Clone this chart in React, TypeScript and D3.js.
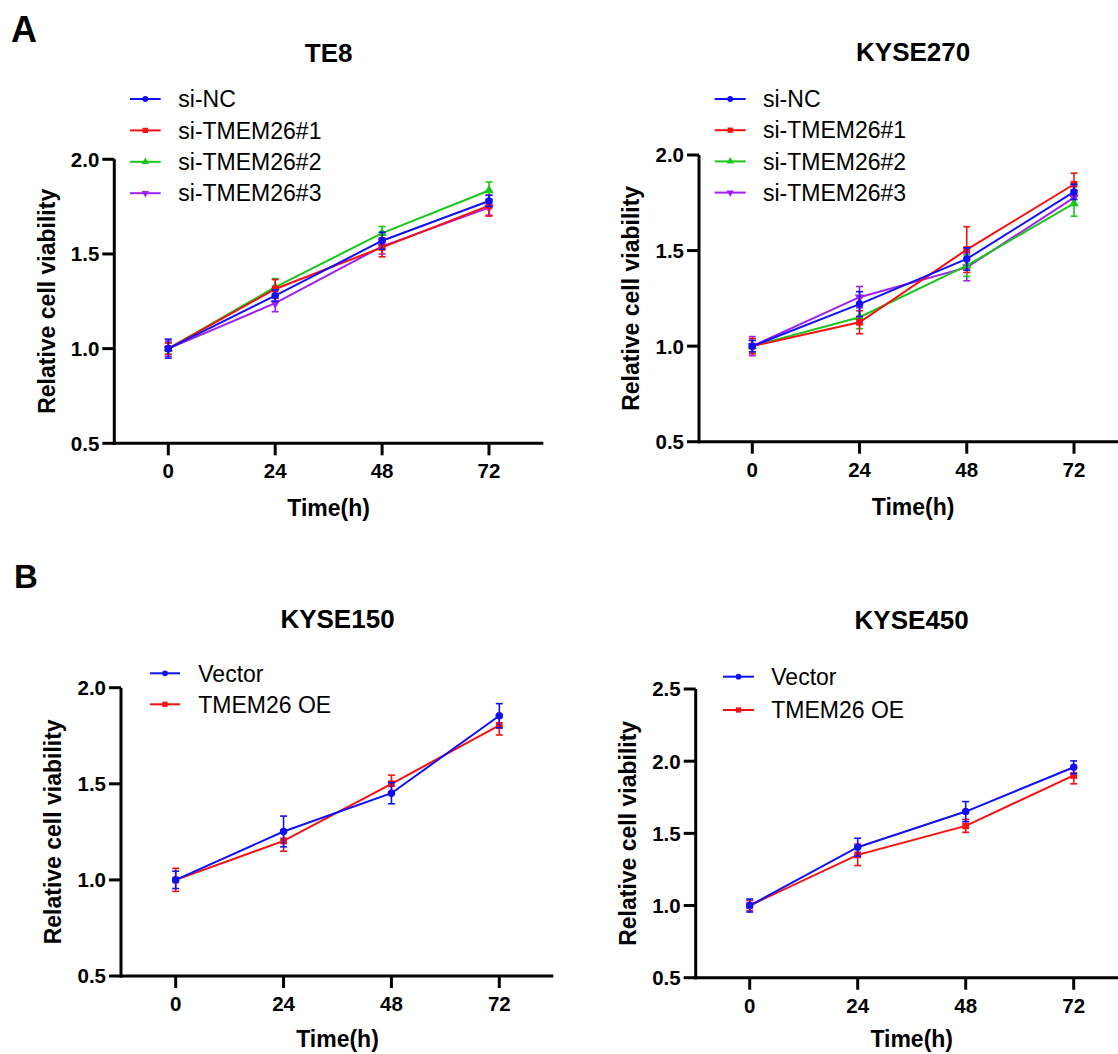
import React from "react";
import * as d3 from "d3";

// ---------- DATA ----------
const timePoints = [0, 24, 48, 72];
const xTickLabels = ["0", "24", "48", "72"];

const te8SiNC = [1.0, 1.28, 1.57, 1.78];
const te8SiNCErr = [0.05, 0.03, 0.045, 0.03];
const te8Si1 = [1.0, 1.315, 1.535, 1.755];
const te8Si1Err = [0.03, 0.05, 0.05, 0.055];
const te8Si2 = [1.0, 1.325, 1.61, 1.835];
const te8Si2Err = [0.03, 0.045, 0.035, 0.045];
const te8Si3 = [1.0, 1.24, 1.54, 1.745];
const te8Si3Err = [0.04, 0.045, 0.04, 0.04];

const k270SiNC = [1.0, 1.22, 1.456, 1.807];
const k270SiNCErr = [0.03, 0.065, 0.058, 0.04];
const k270Si1 = [1.0, 1.125, 1.505, 1.847];
const k270Si1Err = [0.04, 0.06, 0.12, 0.058];
const k270Si2 = [1.0, 1.151, 1.421, 1.747];
const k270Si2Err = [0.03, 0.06, 0.056, 0.067];
const k270Si3 = [1.0, 1.256, 1.412, 1.777];
const k270Si3Err = [0.05, 0.056, 0.07, 0.04];

const k150Vector = [1.0, 1.252, 1.451, 1.854];
const k150VectorErr = [0.045, 0.08, 0.055, 0.063];
const k150OE = [1.0, 1.203, 1.5, 1.804];
const k150OEErr = [0.06, 0.054, 0.045, 0.05];

const k450Vector = [1.0, 1.404, 1.651, 1.958];
const k450VectorErr = [0.045, 0.062, 0.069, 0.044];
const k450OE = [1.0, 1.351, 1.552, 1.901];
const k450OEErr = [0.035, 0.074, 0.045, 0.058];

const siNames = ["si-NC", "si-TMEM26#1", "si-TMEM26#2", "si-TMEM26#3"];
const oeNames = ["Vector", "TMEM26 OE"];
const yTicksA = [0.5, 1.0, 1.5, 2.0];
const yTicks450 = [0.5, 1.0, 1.5, 2.0, 2.5];

// ---------- STYLE ----------
const FONT = "'Liberation Sans', Arial, Helvetica, sans-serif";
const BLUE = "#1010F8";
const RED = "#F81010";
const GREEN = "#18C818";
const PURPLE = "#A020F0";

type Series = { name: string; values: number[]; errors: number[]; color: string; shape: string };

const siSeries = (nc: number[], ncE: number[], s1: number[], s1E: number[], s2: number[], s2E: number[], s3: number[], s3E: number[]): Series[] => [
  { name: siNames[0], values: nc, errors: ncE, color: BLUE, shape: "circle" },
  { name: siNames[1], values: s1, errors: s1E, color: RED, shape: "square" },
  { name: siNames[2], values: s2, errors: s2E, color: GREEN, shape: "up" },
  { name: siNames[3], values: s3, errors: s3E, color: PURPLE, shape: "down" },
];
const oeSeries = (v: number[], vE: number[], o: number[], oE: number[]): Series[] => [
  { name: oeNames[0], values: v, errors: vE, color: BLUE, shape: "circle" },
  { name: oeNames[1], values: o, errors: oE, color: RED, shape: "square" },
];

function symbolPath(shape: string, size: number) {
  const t =
    shape === "circle" ? d3.symbolCircle : shape === "square" ? d3.symbolSquare : d3.symbolTriangle;
  return d3.symbol().type(t).size(size)() as string;
}

type Layout = {
  axisX: number; xStart: number; xEnd: number; yTop: number; yBottom: number; axisEnd: number;
  titleY: number; legLine0: number; legLine1: number; legText: number; legRow0: number; legStep: number;
};

function Panel({ title, series, yDomain, yTicks, L }: { title: string; series: Series[]; yDomain: [number, number]; yTicks: number[]; L: Layout }) {
  const x = d3.scaleLinear().domain([0, 72]).range([L.xStart, L.xEnd]);
  const y = d3.scaleLinear().domain(yDomain).range([L.yBottom, L.yTop]);
  const line = d3.line<number>().x((_, i) => x(timePoints[i])).y((d) => y(d));
  const mid = (L.xStart + L.xEnd) / 2;
  const drawOrder = [...series].reverse();
  return (
    <g>
      <text x={mid} y={L.titleY} textAnchor="middle" fontFamily={FONT} fontWeight="bold" fontSize={26}>{title}</text>
      {/* axes */}
      <line x1={L.axisX} x2={L.axisX} y1={L.yTop} y2={L.yBottom + 1.5} stroke="#000" strokeWidth={3} />
      <line x1={L.axisX - 1.5} x2={L.axisEnd} y1={L.yBottom} y2={L.yBottom} stroke="#000" strokeWidth={3} />
      {yTicks.map((t) => (
        <g key={"y" + t}>
          <line x1={L.axisX - 12} x2={L.axisX} y1={y(t)} y2={y(t)} stroke="#000" strokeWidth={3} />
          <text x={L.axisX - 15} y={y(t)} dy="0.36em" textAnchor="end" fontFamily={FONT} fontWeight="bold" fontSize={20.5}>{d3.format(".1f")(t)}</text>
        </g>
      ))}
      {timePoints.map((t, i) => (
        <g key={"x" + t}>
          <line x1={x(t)} x2={x(t)} y1={L.yBottom} y2={L.yBottom + 12} stroke="#000" strokeWidth={3} />
          <text x={x(t)} y={L.yBottom + 35} textAnchor="middle" fontFamily={FONT} fontWeight="bold" fontSize={20.5}>{xTickLabels[i]}</text>
        </g>
      ))}
      <text x={mid} y={Math.min(L.yBottom + 73, 1047)} textAnchor="middle" fontFamily={FONT} fontWeight="bold" fontSize={23}>Time(h)</text>
      <text transform={`translate(${L.axisX - 67.7},${(L.yTop + L.yBottom) / 2}) rotate(-90)`} dy="0.35em" textAnchor="middle" fontFamily={FONT} fontWeight="bold" fontSize={23}>Relative cell viability</text>
      {/* data */}
      {drawOrder.map((s) => (
        <g key={s.name}>
          <path d={line(s.values) as string} fill="none" stroke={s.color} strokeWidth={2} />
          {s.values.map((v, i) => (
            <g key={i} stroke={s.color} strokeWidth={1.6}>
              <line x1={x(timePoints[i])} x2={x(timePoints[i])} y1={y(v - s.errors[i])} y2={y(v + s.errors[i])} />
              <line x1={x(timePoints[i]) - 3.5} x2={x(timePoints[i]) + 3.5} y1={y(v + s.errors[i])} y2={y(v + s.errors[i])} />
              <line x1={x(timePoints[i]) - 3.5} x2={x(timePoints[i]) + 3.5} y1={y(v - s.errors[i])} y2={y(v - s.errors[i])} />
            </g>
          ))}
          {s.values.map((v, i) => (
            <path key={"m" + i} d={symbolPath(s.shape, s.shape === "circle" ? 44 : s.shape === "square" ? 46 : 40)}
              transform={`translate(${x(timePoints[i])},${y(v)})${s.shape === "down" ? " rotate(180)" : ""}`} fill={s.color} />
          ))}
        </g>
      ))}
      {/* legend */}
      {series.map((s, i) => {
        const ly = L.legRow0 + i * L.legStep;
        const cx = (L.legLine0 + L.legLine1) / 2;
        return (
          <g key={"leg" + s.name}>
            <line x1={L.legLine0} x2={L.legLine1} y1={ly} y2={ly} stroke={s.color} strokeWidth={2} />
            <path d={symbolPath(s.shape, s.shape === "circle" ? 26 : s.shape === "square" ? 28 : 24)}
              transform={`translate(${cx},${ly})${s.shape === "down" ? " rotate(180)" : ""}`} fill={s.color} />
            <text x={L.legText} y={ly} dy="0.36em" fontFamily={FONT} fontSize={23}>{s.name}</text>
          </g>
        );
      })}
    </g>
  );
}

const layoutTE8: Layout = { axisX: 114.3, xStart: 168.3, xEnd: 489, yTop: 159.3, yBottom: 443.3, axisEnd: 543.3, titleY: 61.7, legLine0: 130, legLine1: 160.7, legText: 178.3, legRow0: 99, legStep: 31.4 };
const layout270: Layout = { axisX: 699, xStart: 752.3, xEnd: 1074, yTop: 155, yBottom: 441.7, axisEnd: 1130, titleY: 61, legLine0: 714.7, legLine1: 745.7, legText: 763, legRow0: 99, legStep: 31.2 };
const layout150: Layout = { axisX: 121, xStart: 175.7, xEnd: 499.3, yTop: 687.7, yBottom: 976, axisEnd: 553.3, titleY: 628.3, legLine0: 150, legLine1: 180, legText: 198.3, legRow0: 673.3, legStep: 31 };
const layout450: Layout = { axisX: 695.7, xStart: 749.7, xEnd: 1073.7, yTop: 689, yBottom: 977.7, axisEnd: 1130, titleY: 629, legLine0: 723, legLine1: 754, legText: 771.3, legRow0: 676.7, legStep: 33.3 };

export default function App() {
  return (
    <svg width={1118} height={1054} style={{ position: "absolute", left: 0, top: 0, display: "block", background: "#fff" }}>
      <rect width={1118} height={1054} fill="#fff" />
      <text x={11} y={41.7} fontFamily={FONT} fontWeight="bold" fontSize={36}>A</text>
      <text x={14} y={588.3} fontFamily={FONT} fontWeight="bold" fontSize={33}>B</text>
      <Panel title="TE8" series={siSeries(te8SiNC, te8SiNCErr, te8Si1, te8Si1Err, te8Si2, te8Si2Err, te8Si3, te8Si3Err)} yDomain={[0.5, 2.0]} yTicks={yTicksA} L={layoutTE8} />
      <Panel title="KYSE270" series={siSeries(k270SiNC, k270SiNCErr, k270Si1, k270Si1Err, k270Si2, k270Si2Err, k270Si3, k270Si3Err)} yDomain={[0.5, 2.0]} yTicks={yTicksA} L={layout270} />
      <Panel title="KYSE150" series={oeSeries(k150Vector, k150VectorErr, k150OE, k150OEErr)} yDomain={[0.5, 2.0]} yTicks={yTicksA} L={layout150} />
      <Panel title="KYSE450" series={oeSeries(k450Vector, k450VectorErr, k450OE, k450OEErr)} yDomain={[0.5, 2.5]} yTicks={yTicks450} L={layout450} />
    </svg>
  );
}
